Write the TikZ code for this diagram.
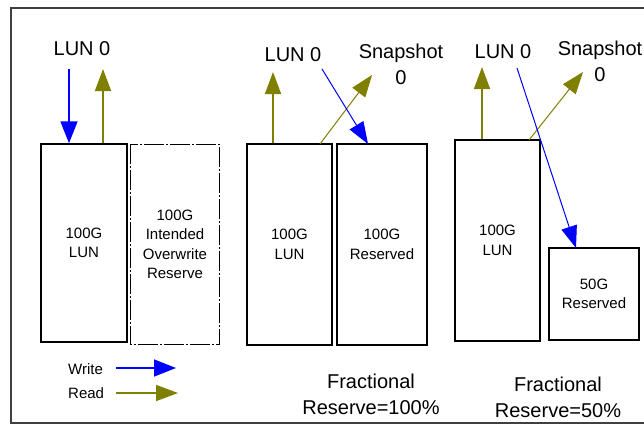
\documentclass[tikz,border=0pt]{standalone}
\usepackage{fontspec}
\setmainfont{Liberation Sans}
\usetikzlibrary{arrows.meta}
\definecolor{wblue}{RGB}{0,0,255}
\definecolor{rolive}{RGB}{128,128,0}
\begin{document}
\begin{tikzpicture}[x=1pt,y=-1pt,
  box/.style={draw=black,line width=1.4pt,inner sep=0pt,align=center,
    font=\fontsize{15}{19.5}\selectfont},
  lbl/.style={inner sep=0pt,align=center,font=\fontsize{20}{26}\selectfont},
  small/.style={inner sep=0pt,font=\fontsize{15}{19}\selectfont},
  wr/.style={draw=wblue,line width=1.6pt,-{Triangle[length=22pt,width=17pt]}},
  rd/.style={draw=rolive,line width=1.6pt,-{Triangle[length=22pt,width=16pt]}},
  wrthin/.style={draw=wblue,line width=1pt,-{Triangle[length=22pt,width=16pt]}},
  rdthin/.style={draw=rolive,line width=1pt,-{Triangle[length=22pt,width=16pt]}}]
\useasboundingbox (0,0) rectangle (644,426);
\fill[white] (0,0) rectangle (644,426);
% frame
\draw[line width=1.2pt,draw=black!75] (644,8) -- (11,8) -- (11,423) -- (644,423);

% panel 1
\node[box,minimum width=86pt,minimum height=198pt] (b1) at (84,243) {100G\\LUN};
\node[box,draw=none,minimum width=88pt,minimum height=199pt] (b2) at (175,244.5) {100G\\Intended\\Overwrite\\Reserve};
\draw[line width=1.4pt,dash pattern=on 20pt off 2pt on 2pt off 2pt] (b2.north west) rectangle (b2.south east);
\node[lbl] (l1) at (82,49) {LUN 0};
\coordinate (w1s) at (69,69);
\coordinate (r1e) at (103,69);
\draw[wr] (w1s) -- (w1s |- b1.north);
\draw[rd] (r1e |- b1.north) -- (r1e);

% legend
\node[small,anchor=west] (lw) at (68,369) {Write};
\node[small,anchor=west] (lr) at (68,393) {Read};
\coordinate (lwe) at (176,368);
\coordinate (lre) at (178,393);
\draw[wr] ([xshift=13pt]lw.east |- lwe) -- (lwe);
\draw[rd] ([xshift=12pt]lr.east |- lre) -- (lre);

% panel 2
\node[box,minimum width=85pt,minimum height=201pt] (b3) at (289.5,244.5) {100G\\LUN};
\node[box,minimum width=90pt,minimum height=201pt] (b4) at (382,244.5) {100G\\Reserved};
\node[lbl] (l2) at (293,55) {LUN 0};
\node[lbl] (s2) at (401,64.5) {Snapshot\\0};
\coordinate (r2a) at (273,72);
\coordinate (r2b) at (372,75);
\coordinate (w2s) at (322,69);
\draw[rd] (r2a |- b3.north) -- (r2a);
\draw[rdthin] (320,144) -- (r2b);
\draw[wrthin] (w2s) -- (368,144);
\node[lbl] (f2) at (371,394) {Fractional\\Reserve=100\%};

% panel 3
\node[box,minimum width=85pt,minimum height=201pt] (b5) at (497.5,240.5) {100G\\LUN};
\node[box,minimum width=90pt,minimum height=92pt] (b6) at (594,294) {50G\\Reserved};
\node[lbl] (l3) at (503,52) {LUN 0};
\node[lbl] (s3) at (600,61.5) {Snapshot\\0};
\coordinate (r3a) at (482,67);
\coordinate (r3b) at (583,72);
\coordinate (w3s) at (517,68);
\draw[rd] (r3a |- b5.north) -- (r3a);
\draw[rdthin] (529,140) -- (r3b);
\draw[wrthin] (w3s) -- (576,248);
\node[lbl] (f3) at (558,397) {Fractional\\Reserve=50\%};
\end{tikzpicture}
\end{document}
